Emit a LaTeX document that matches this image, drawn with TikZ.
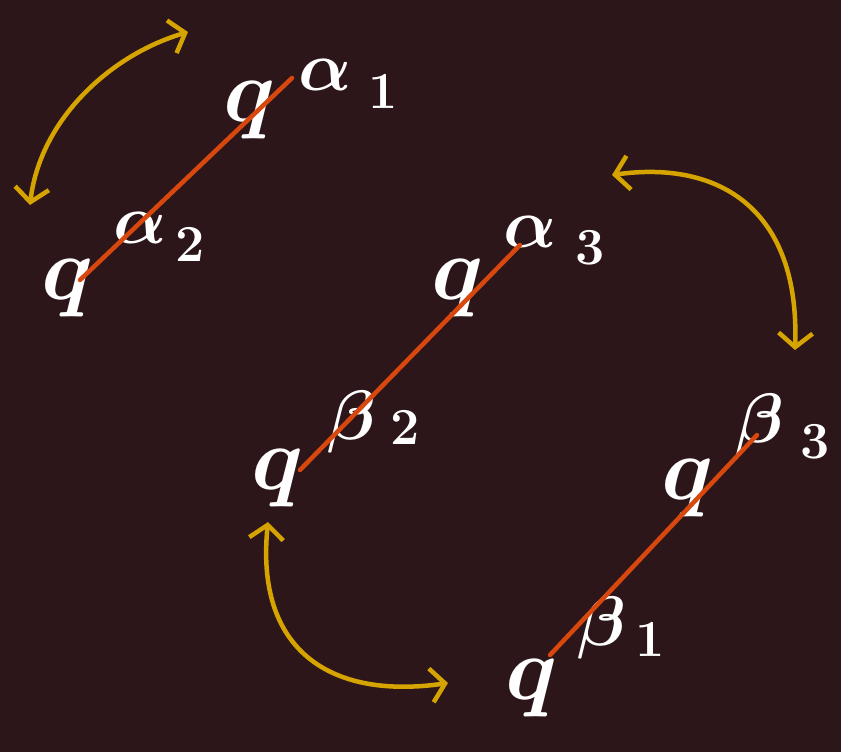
\documentclass[tikz,border=0pt]{standalone}
\usepackage{fix-cm}
\usetikzlibrary{arrows.meta}
\definecolor{bg}{HTML}{2C1619}
\definecolor{orng}{HTML}{D8480E}
\definecolor{yel}{HTML}{D6A400}
\tikzset{
  lbl/.style={text=white, inner sep=0pt, font=\fontsize{90}{90}\selectfont\boldmath},
  sup/.style={text=white, inner sep=0pt, font=\fontsize{70}{70}\selectfont\boldmath},
  idx/.style={text=white, inner sep=0pt, font=\fontsize{52}{52}\selectfont\boldmath},
  link/.style={orng, line width=4.5pt, line cap=round},
  swap/.style={yel, line width=4.5pt, line cap=round,
    {Straight Barb[length=14pt,width=34pt,line width=4.5pt]}-{Straight Barb[length=14pt,width=34pt,line width=4.5pt]}}
}
\begin{document}
\begin{tikzpicture}[x=1pt,y=-1pt]
\fill[bg] (0,0) rectangle (841,752);
\useasboundingbox (0,0) rectangle (841,752);
% labels
\node[lbl] (qa1) at (250,110) {$q$};
\node[sup] (sa1) at (325,75) {$\alpha$};
\node[idx] (ia1) at (383,92) {$1$};
\node[lbl] (qa2) at (68,288) {$q$};
\node[sup] (sa2) at (140,228) {$\alpha$};
\node[idx] (ia2) at (190,245) {$2$};
\node[lbl] (qa3) at (458,288) {$q$};
\node[sup] (sa3) at (530,232) {$\alpha$};
\node[idx] (ia3) at (590,248) {$3$};
\node[lbl] (qb2) at (278,478) {$q$};
\node[sup] (sb2) at (352,422) {$\beta$};
\node[idx] (ib2) at (405,428) {$2$};
\node[lbl] (qb3) at (688,488) {$q$};
\node[sup] (sb3) at (760,425) {$\beta$};
\node[idx] (ib3) at (815,442) {$3$};
\node[lbl] (qb1) at (532,688) {$q$};
\node[sup] (sb1) at (602,628) {$\beta$};
\node[idx] (ib1) at (650,640) {$1$};
% orange links
\coordinate (l1a) at (80,280);  \coordinate (l1b) at (292,78);
\coordinate (l2a) at (300,470); \coordinate (l2b) at (520,245);
\coordinate (l3a) at (550,655); \coordinate (l3b) at (757,435);
\draw[link] (l1a) -- (l1b);
\draw[link] (l2a) -- (l2b);
\draw[link] (l3a) -- (l3b);
% yellow swaps
\coordinate (s1a) at (30,205);  \coordinate (s1b) at (188,32);
\coordinate (s2a) at (612,175); \coordinate (s2b) at (795,350);
\coordinate (s3a) at (268,522); \coordinate (s3b) at (448,683);
\draw[swap] (s1a) .. controls (40,120) and (110,55) .. (s1b);
\draw[swap] (s2a) .. controls (720,160) and (800,210) .. (s2b);
\draw[swap] (s3a) .. controls (255,650) and (330,700) .. (s3b);
\end{tikzpicture}
\end{document}
